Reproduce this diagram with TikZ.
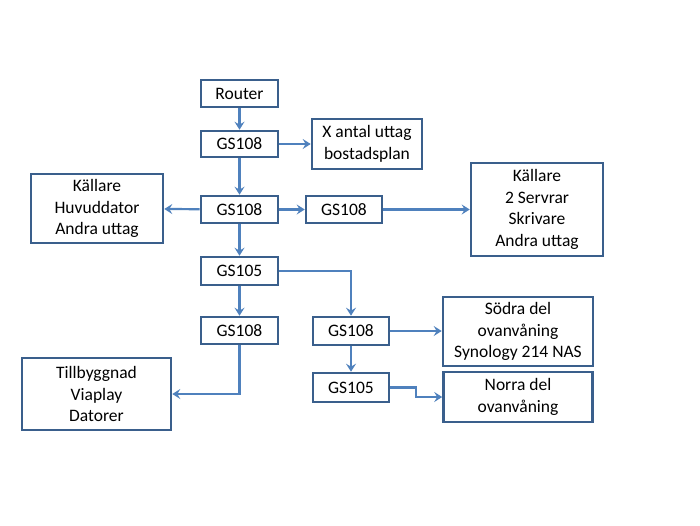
\documentclass[tikz,border=0pt]{standalone}
\usepackage{fontspec}
\setmainfont{Carlito}
\usetikzlibrary{arrows.meta,calc}
\definecolor{boxline}{HTML}{3A5F8C}
\definecolor{arrowline}{HTML}{4F81BD}
\tikzset{
  box/.style={draw=boxline, line width=2.6pt, fill=white, inner sep=0pt, align=center,
    font=\fontsize{17.5}{21.5}\selectfont},
  conn/.style={draw=arrowline, line width=2.2pt,
    -{Stealth[length=8pt,width=10pt,inset=3pt]}}
}
\begin{document}
\begin{tikzpicture}[x=1pt,y=-1pt]
\useasboundingbox[fill=white] (0,0) rectangle (700,525);
\node[box, minimum width=77, minimum height=27] (router) at (239.5,93.5) {Router};
\node[box, minimum width=77, minimum height=26] (gsA) at (239.5,144) {GS108};
\node[box, minimum width=110, minimum height=50] (xantal) at (367,144) {X antal uttag\\bostadsplan};
\node[box, minimum width=77, minimum height=27] (gsB) at (239.5,209.5) {GS108};
\node[box, minimum width=132, minimum height=69] (kal1) at (97,208.5) {Källare\\Huvuddator\\Andra uttag};
\node[box, minimum width=76, minimum height=27] (gsC) at (344,209.5) {GS108};
\node[box, minimum width=132, minimum height=93] (kal2) at (537,209.5) {Källare\\2 Servrar\\Skrivare\\Andra uttag};
\node[box, minimum width=77, minimum height=28] (gs105a) at (239.5,271) {GS105};
\node[box, minimum width=77, minimum height=27] (gsD) at (239.5,330.5) {GS108};
\node[box, minimum width=76, minimum height=28] (gsE) at (351,331) {GS108};
\node[box, minimum width=150, minimum height=69] (sodra) at (518,331.5) {Södra del\\ovanvåning\\Synology 214 NAS};
\node[box, minimum width=76, minimum height=29] (gs105b) at (351,387.5) {GS105};
\node[box, minimum width=149, minimum height=50] (norra) at (518,397) {Norra del\\ovanvåning};
\node[box, minimum width=149, minimum height=72] (till) at (96.5,394) {Tillbyggnad\\Viaplay\\Datorer};

\draw[conn] (router) -- (gsA);
\draw[conn] (gsA) -- (xantal);
\draw[conn] (gsA) -- (gsB);
\draw[conn] (gsB) -- (kal1);
\draw[conn] (gsB) -- (gsC);
\draw[conn] (gsC) -- (kal2);
\draw[conn] (gsB) -- (gs105a);
\draw[conn] (gs105a.east) -| (gsE.north);
\draw[conn] (gs105a) -- (gsD);
\draw[conn] (gsD.south) |- (till.east);
\draw[conn] (gsE) -- (sodra.west |- gsE.east);
\draw[conn] (gsE) -- (gs105b);
\draw[conn] (gs105b.east) -| ($(gs105b.east)!0.5!(norra.west)$) |- (norra.west);
\end{tikzpicture}
\end{document}
